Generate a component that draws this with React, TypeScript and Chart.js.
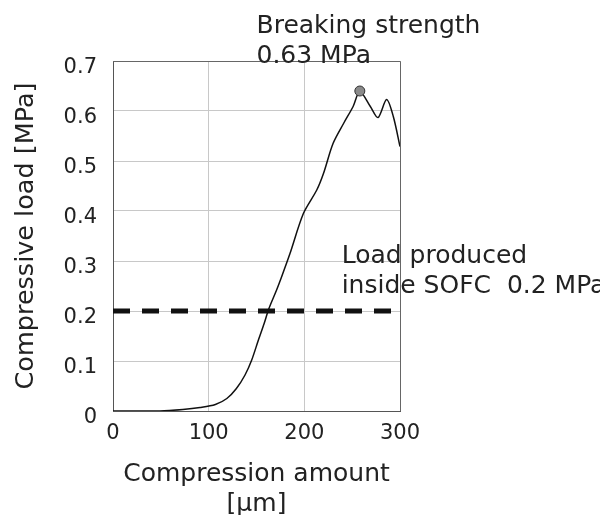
import React, { useEffect, useRef } from "react";
import { Chart, registerables } from "chart.js";

Chart.register(...registerables);

// Compression amount [µm] and compressive load [MPa]
const compression = [0, 49, 73, 91, 107, 119, 129, 138, 145, 152, 158, 163, 171, 175, 185, 199, 213, 220, 230, 241, 251, 258, 269, 277, 286, 293, 300];
const load = [0, 0, 0.003, 0.007, 0.013, 0.025, 0.045, 0.072, 0.102, 0.142, 0.175, 0.205, 0.242, 0.262, 0.315, 0.395, 0.442, 0.475, 0.535, 0.575, 0.609, 0.639, 0.609, 0.587, 0.623, 0.589, 0.529];

// Breaking point marker
const breakX = [258];
const breakY = [0.64];

// Load produced inside SOFC (reference line)
const refX = [0, 297];
const refY = [0.2, 0.2];

const xTicks = [0, 100, 200, 300];
const yTicks = [0, 0.1, 0.2, 0.3, 0.4, 0.5, 0.6, 0.7];

const breakingLabel = ["Breaking strength", "0.63 MPa"];
const sofcLabel = ["Load produced", "inside SOFC  0.2 MPa"];

const FONT = "'DejaVu Sans', Verdana, sans-serif";

export default function App() {
  const ref = useRef<HTMLCanvasElement | null>(null);

  useEffect(() => {
    document.documentElement.style.overflow = "hidden";
    const canvas = ref.current;
    if (!canvas) return;

    const annotations = {
      id: "annotations",
      afterDraw(chart: any) {
        const { ctx, scales, chartArea } = chart;
        const xs = scales.x;
        const ys = scales.y;
        ctx.save();
        // plot frame (top and right)
        ctx.strokeStyle = "#666";
        ctx.lineWidth = 1;
        ctx.beginPath();
        ctx.moveTo(chartArea.left, chartArea.top + 0.5);
        ctx.lineTo(chartArea.right + 0.5, chartArea.top + 0.5);
        ctx.lineTo(chartArea.right + 0.5, chartArea.bottom);
        ctx.stroke();

        ctx.fillStyle = "#222";
        ctx.font = `25px ${FONT}`;
        ctx.textAlign = "left";
        ctx.textBaseline = "alphabetic";
        const bx = xs.getPixelForValue(150);
        ctx.fillText(breakingLabel[0], bx, ys.getPixelForValue(0.757));
        ctx.fillText(breakingLabel[1], bx, ys.getPixelForValue(0.697));
        const sx = xs.getPixelForValue(239);
        ctx.fillText(sofcLabel[0], sx, ys.getPixelForValue(0.296));
        ctx.fillText(sofcLabel[1], sx, ys.getPixelForValue(0.236));
        ctx.restore();
      },
    };

    const chart = new Chart(canvas, {
      type: "scatter",
      data: {
        datasets: [
          {
            data: refX.map((x, i) => ({ x, y: refY[i] })),
            showLine: true,
            borderColor: "#111",
            borderWidth: 5,
            borderDash: [17, 12],
            pointRadius: 0,
            order: 3,
          },
          {
            data: compression.map((x, i) => ({ x, y: load[i] })),
            showLine: true,
            borderColor: "#111",
            borderWidth: 1.5,
            pointRadius: 0,
            tension: 0.3,
            order: 2,
          },
          {
            data: breakX.map((x, i) => ({ x, y: breakY[i] })),
            pointRadius: 5,
            pointBackgroundColor: "#8a8a8a",
            pointBorderColor: "#333",
            pointBorderWidth: 1,
            order: 1,
          },
        ],
      },
      options: {
        responsive: false,
        animation: false,
        layout: { padding: { top: 53, right: 200, left: 0, bottom: 0 } },
        plugins: {
          legend: { display: false },
          tooltip: { enabled: false },
        },
        scales: {
          x: {
            type: "linear",
            min: 0,
            max: 300,
            afterBuildTicks: (s: any) => {
              s.ticks = xTicks.map((v) => ({ value: v }));
            },
            afterFit: (s: any) => {
              s.height = 104;
            },
            ticks: {
              padding: 10,
              color: "#222",
              font: { family: FONT, size: 21 },
            },
            grid: { color: "#c8c8c8", drawTicks: false },
            border: { color: "#555", width: 1 },
            title: {
              display: true,
              text: ["Compression amount", "[µm]"],
              color: "#222",
              font: { family: FONT, size: 25, lineHeight: 1.2 },
              padding: { top: 0, bottom: -4 },
            },
          },
          y: {
            type: "linear",
            min: 0,
            max: 0.7,
            afterBuildTicks: (s: any) => {
              s.ticks = yTicks.map((v) => ({ value: v }));
            },
            afterFit: (s: any) => {
              s.width = 105;
            },
            ticks: {
              padding: 16,
              labelOffset: 7,
              color: "#222",
              font: { family: FONT, size: 21 },
              callback: (v: any) => (Number(v) === 0 ? "0" : Number(v).toFixed(1)),
            },
            grid: { color: "#c8c8c8", drawTicks: false },
            border: { color: "#555", width: 1 },
            title: {
              display: true,
              text: "Compressive load [MPa]",
              color: "#222",
              font: { family: FONT, size: 25.5 },
              padding: { top: 3, bottom: 0 },
            },
          },
        },
      },
      plugins: [annotations],
    });

    return () => chart.destroy();
  }, []);

  return <canvas ref={ref} width={592} height={507} style={{ display: "block" }} />;
}
